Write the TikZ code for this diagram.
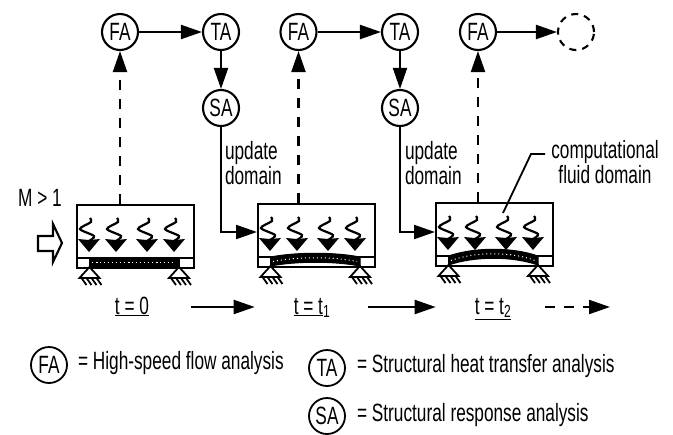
\documentclass[tikz,border=0pt]{standalone}
\usepackage{fontspec}
\setmainfont[FakeStretch=0.69]{Liberation Sans}
\usetikzlibrary{arrows.meta}
\begin{document}
\begin{tikzpicture}[x=1pt,y=-1pt,>={Triangle[length=21pt,width=14pt]},
 font=\fontsize{25}{20}\selectfont,line width=2.1pt]
%===DEF. COMPONENTS====
\tikzset{analysis/.style ={draw, circle, inner sep = 0pt, minimum size = 36pt}}
\tikzset{legendkey/.style ={analysis, line width = 1.8pt}}
\tikzset{flowbox/.style ={draw, rectangle, anchor = north west, minimum width = 117pt, minimum height = 63pt}}
\tikzset{tlabel/.style ={inner sep = 0pt, text height = 18pt, text depth = 4pt}}
\tikzset{dashline/.style ={dash pattern = on 10pt off 9pt}}
\tikzset{note/.style ={align = center, inner sep = 0pt}}

\def\support(#1,#2){
 \begin{scope}[shift={(#1,#2)},line width=1.8pt]
 \draw (0,0) -- (-10,11) -- (10,11) -- cycle;
 \foreach \hx in {-8,-3,2,7}{
 \draw (\hx,11) -- ++(5,7);
 }
 \end{scope}
}

\def\panel(#1,#2,#3,#4){
 \node[flowbox] (#3) at (#1,#2) {};
 \begin{scope}[shift={(#1,#2)}]
 \draw[line width=1.8pt] (0,54) -- (117,54);
 \filldraw[line width=1pt] (13.5,54) .. controls (40,54-#4) and (77,54-#4) .. (103,54) -- (103,63)
 .. controls (77,63-#4) and (40,63-#4) .. (13.5,63) -- cycle;
 \draw[white,line width=1pt,dash pattern=on 1pt off 3pt] (16,58.5) .. controls (40,58.5-#4) and (77,58.5-#4) .. (100,58.5);
 \foreach \sx in {13,40,71,98}{
 \draw[line width=2.2pt] plot[smooth] coordinates {(\sx+1,14) (\sx+2,18) (\sx-9,25) (\sx+5,32) (\sx,37)};
 \fill (\sx,48) -- (\sx-11,35) -- (\sx,36) -- (\sx+11,35) -- cycle;
 }
 \end{scope}
 \support(#1+13.5,#2+63)
 \support(#1+103,#2+63)
}
%===analysis===
\node[analysis] (FA1) at (120,32) {FA};
\node[analysis] (TA1) at (221,32) {TA};
\node[analysis] (SA1) at (221,108) {SA};
\node[analysis] (FA2) at (298.5,32) {FA};
\node[analysis] (TA2) at (400,32) {TA};
\node[analysis] (SA2) at (400,108) {SA};
\node[analysis] (FA3) at (478,32) {FA};
\node[analysis,dash pattern=on 7pt off 6pt] (next) at (576,32) {};
%===domain===
\panel(76,204,box1,0)
\panel(257,203,box2,5)
\panel(435,202,box3,9)
%===solid line===
\draw[->] (FA1) -- (TA1);
\draw[->] (TA1) -- (SA1);
\draw[->] (FA2) -- (TA2);
\draw[->] (TA2) -- (SA2);
\draw[->] (FA3) -- (next);
\coordinate (in2) at (257,232);
\coordinate (in3) at (435,232);
\draw[->] (SA1) |- (in2);
\draw[->] (SA2) |- (in3);
%===dashed line===
\draw[->,dashline] (FA1 |- box1.north) -- (FA1);
\draw[->,dashline] (FA2 |- box2.north) -- (FA2);
\draw[->,dashline] (FA3 |- box3.north) -- (FA3);
%===inflow===
\draw (38,236) -- (53,236) -- (53,224) -- (62,243) -- (53,262) -- (53,251) -- (38,251) -- cycle;
\node[note] (mach) at (40,198) {M > 1};
%===update===
\node[note,align=left,anchor=west] (up1) at (224,163) {update\\domain};
\node[note,align=left,anchor=west] (up2) at (404,163) {update\\domain};
\node[note] (fluid) at (605,162) {computational\\fluid domain};
\coordinate (lead) at (503,213);
\draw[line width=1.8pt] (lead) -- (531,154) -- (545,154);
%===time===
\node[tlabel] (t0) at (132,307) {\underline{t = 0}};
\node[tlabel] (t1) at (312,307) {\underline{t = t}\textsubscript{1}};
\node[tlabel] (t2) at (493,307) {\underline{t = t\textsubscript{2}}};
\coordinate (tend) at (610,307);
\draw[->,shorten <=41pt,shorten >=38pt] (t0.east) -- (t1.west);
\draw[->,shorten <=37pt,shorten >=38pt] (t1.east) -- (t2.west);
\draw[->,dashline,shorten <=33pt] (t2.east) -- (tend);
%===legend===
\node[legendkey] (keyFA) at (49,365) {FA};
\node[legendkey] (keyTA) at (327,368) {TA};
\node[legendkey] (keySA) at (327,416) {SA};
\node[anchor=west,inner sep=0pt] (textFA) at (77,363) {= High-speed flow analysis};
\node[anchor=west,inner sep=0pt] (textTA) at (356,366) {= Structural heat transfer analysis};
\node[anchor=west,inner sep=0pt] (textSA) at (356,415) {= Structural response analysis};
\useasboundingbox (0,0) rectangle (673,430);
\end{tikzpicture}
\end{document}
